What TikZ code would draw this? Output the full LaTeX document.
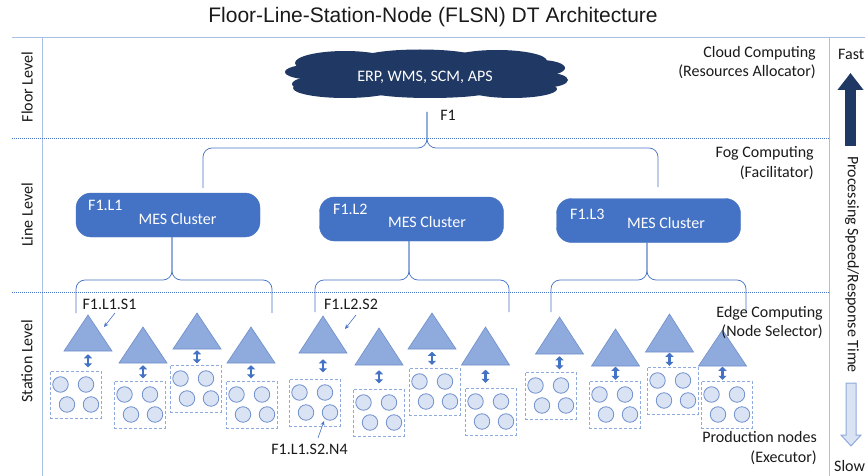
\documentclass[tikz,border=0pt]{standalone}
\usepackage{fontspec}
\setmainfont{Carlito}
\newfontfamily\titlefont{Liberation Sans}
\usetikzlibrary{arrows.meta}
\definecolor{navy}{HTML}{203864}
\definecolor{mesblue}{HTML}{4472C4}
\definecolor{trifill}{HTML}{8FAADC}
\definecolor{triedge}{HTML}{6F8FCB}
\definecolor{circfill}{HTML}{DAE3F3}
\definecolor{circedge}{HTML}{7090CC}
\definecolor{axisline}{HTML}{A9BFE3}
\definecolor{txt}{HTML}{1A1A1A}
\newcommand{\lblfont}{\fontsize{16}{19.5}\selectfont}
\begin{document}
\begin{tikzpicture}[x=1pt,y=-1pt,
  every node/.style={font=\lblfont, text=txt, inner sep=0pt},
  axis/.style={draw=axisline, line width=1pt},
  levelsep/.style={draw=mesblue, line width=0.6pt, dash pattern=on 1pt off 1pt},
  bracelink/.style={draw=mesblue, line width=0.7pt, rounded corners=9pt},
  cloudpart/.style={fill=navy},
  mesbox/.style={fill=mesblue, draw=mesblue, rounded corners=15pt, minimum width=184pt, minimum height=44pt},
  mestext/.style={text=white},
  tri/.style={fill=trifill, draw=triedge, line width=0.6pt, line join=miter},
  nbox/.style={draw=trifill, line width=0.8pt, dash pattern=on 3pt off 2pt, minimum width=51pt, minimum height=47pt},
  nd/.style={circle, fill=circfill, draw=circedge, line width=0.8pt, minimum size=15.5pt},
  dbl/.style={draw=mesblue, line width=2.8pt, {Triangle[width=8pt,length=4pt]}-{Triangle[width=8pt,length=4pt]}},
  lblarrow/.style={draw=mesblue, line width=0.6pt, -{Stealth[length=4.5pt,width=4pt]}},
  righttext/.style={anchor=east, align=right}
]
\useasboundingbox (0,0) rectangle (865,476);
\fill[white] (0,0) rectangle (865,476);

% title
\node[font=\titlefont\fontsize{21}{24}\selectfont] (title) at (433,17) {Floor-Line-Station-Node (FLSN) DT Architecture};

% frame lines
\draw[axis] (12,38) -- (865,38);
\draw[axis] (42,38) -- (42,476);
\draw[axis] (829,38) -- (829,476);
\draw[levelsep] (12,138) -- (829,138);
\draw[levelsep] (12,292) -- (829,292);

% level labels
\node[rotate=90] (lvfloor) at (27,87) {Floor Level};
\node[rotate=90] (lvline) at (27,215) {Line Level};
\node[rotate=90] (lvstation) at (27,361) {Station Level};

% cloud (union of lobes)
\fill[cloudpart] (427,75) ellipse [x radius=120, y radius=21];
\fill[cloudpart] (345,63) ellipse [x radius=50, y radius=12];
\fill[cloudpart] (420,58) ellipse [x radius=58, y radius=8.5];
\fill[cloudpart] (497,61) ellipse [x radius=50, y radius=11];
\fill[cloudpart] (345,88) ellipse [x radius=52, y radius=10];
\fill[cloudpart] (430,91) ellipse [x radius=62, y radius=7];
\fill[cloudpart] (512,89) ellipse [x radius=45, y radius=9];
\fill[cloudpart] (312,72) ellipse [x radius=27, y radius=7.5];
\fill[cloudpart] (317,84) ellipse [x radius=25, y radius=7.5];
\fill[cloudpart] (540,68) ellipse [x radius=25, y radius=8];
\fill[cloudpart] (545,80) ellipse [x radius=23, y radius=7.5];
\node[text=white] (cloud) at (425,77) {ERP, WMS, SCM, APS};
\coordinate (cloudbot) at (427,112);
\node (f1) at (448,115) {F1};

% MES clusters
\node[mesbox] (m1) at (168,215) {};
\node[mesbox] (m2) at (411.5,219) {};
\node[mesbox] (m3) at (648.5,220.5) {};
\node[mestext, anchor=west] (m1id) at (88,205) {F1.L1};
\node[mestext] (m1t) at (177.5,219) {MES Cluster};
\node[mestext, anchor=west] (m2id) at (333,209) {F1.L2};
\node[mestext] (m2t) at (427,222) {MES Cluster};
\node[mestext, anchor=west] (m3id) at (570,214) {F1.L3};
\node[mestext] (m3t) at (666,223) {MES Cluster};

% braces
\coordinate (c1l) at (203,188);
\coordinate (c1r) at (658,187);
\coordinate (c1bar) at (427,148);
\draw[bracelink] (c1l) |- (c1bar) -- (cloudbot);
\draw[bracelink] (c1r) |- (c1bar) -- (cloudbot);

\coordinate (b1l) at (76,313);
\coordinate (b1r) at (272,313);
\coordinate (b1bar) at (172,280);
\draw[bracelink] (b1l) |- (b1bar) -- (b1bar |- m1.south);
\draw[bracelink] (b1r) |- (b1bar) -- (b1bar |- m1.south);

\coordinate (b2l) at (315,312);
\coordinate (b2r) at (509,312);
\coordinate (b2bar) at (409,280);
\draw[bracelink] (b2l) |- (b2bar) -- (b2bar |- m2.south);
\draw[bracelink] (b2r) |- (b2bar) -- (b2bar |- m2.south);

\coordinate (b3l) at (551,312);
\coordinate (b3r) at (746,312);
\coordinate (b3bar) at (647,280);
\draw[bracelink] (b3l) |- (b3bar) -- (b3bar |- m3.south);
\draw[bracelink] (b3r) |- (b3bar) -- (b3bar |- m3.south);

% stations and production nodes
\foreach \i/\tx/\ta/\tb/\bx/\by in {
  1/88/315/351/50/371, 2/143/327/363/114/381, 3/197/313/349/170/365,
  4/251/327/363/226/381, 5/323/316/353/289/379, 6/379/328/365/353/389,
  7/432/313/349/409/368, 8/485.5/327/365/465/388, 9/559.5/317/354/525/372,
  10/615.5/329/366/589/381, 11/669.5/314/352/647/367, 12/722.5/330/366/701/381} {
  \coordinate (ta\i) at (\tx,\ta);
  \coordinate (tb\i) at (\tx,\tb);
  \path[tri] (\tx-24,\tb) -- (ta\i) -- (\tx+24,\tb) -- cycle;
  \node[nbox] (n\i) at (\bx+25.5,\by+23.5) {};
  \node[nd] (n\i a) at (\bx+10.5,\by+13.5) {};
  \node[nd] (n\i b) at (\bx+36,\by+13.5) {};
  \node[nd] (n\i c) at (\bx+17,\by+33.5) {};
  \node[nd] (n\i d) at (\bx+41,\by+33.5) {};
  \pgfmathsetmacro{\sh}{max(0.6,(\by-\tb-13.5)/2)}
  \draw[dbl, shorten <=\sh pt, shorten >=\sh pt] (tb\i) -- (tb\i |- n\i.north);
}

% station / node labels
\node (lab1) at (109.5,304) {F1.L1.S1};
\coordinate (lab1s) at (115,313);
\coordinate (lab1e) at (104,327);
\draw[lblarrow] (lab1s) -- (lab1e);
\node (lab2) at (351,304) {F1.L2.S2};
\coordinate (lab2s) at (356,315);
\coordinate (lab2e) at (345,329);
\draw[lblarrow] (lab2s) -- (lab2e);
\node (lab3) at (309.5,449) {F1.L1.S2.N4};
\coordinate (lab3s) at (318,438);
\coordinate (lab3e) at (324,421);
\draw[lblarrow] (lab3s) -- (lab3e);

% right-side role texts
\node[righttext] (cloudrole) at (816,62.5) {Cloud Computing\\(Resources Allocator)};
\node[righttext] (fogrole) at (814,163) {Fog Computing\\(Facilitator)};
\node[righttext] (edgerole) at (823,322.5) {Edge Computing\\(Node Selector)};
\node[righttext] (prodrole) at (817,448) {Production nodes\\(Executor)};

% speed axis
\node[anchor=west] (fast) at (838,54) {Fast};
\node[anchor=west] (slow) at (834,466) {Slow};
\draw[navy, line width=11pt, -{Triangle[width=25pt,length=17pt]}] (850.5,146) -- (850.5,73);
\node[rotate=-90] (speed) at (852,264.5) {Processing Speed/Response Time};
\filldraw[fill=circfill, draw=trifill, line width=1pt]
  (846,383) -- (856,383) -- (856,435) -- (861,435) -- (851,446) -- (841,435) -- (846,435) -- cycle;
\end{tikzpicture}
\end{document}
